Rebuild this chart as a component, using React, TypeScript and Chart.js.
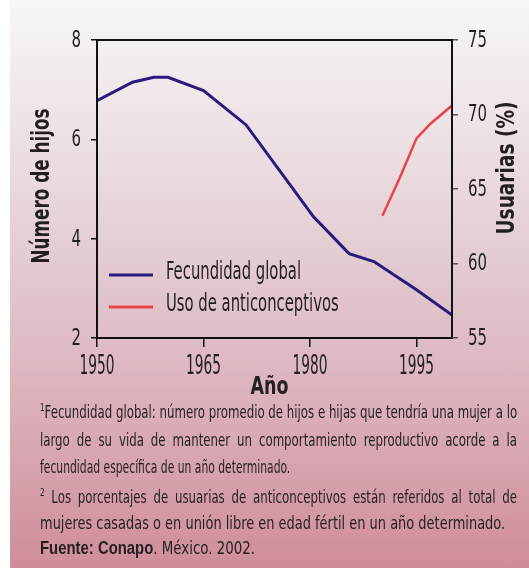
import { useEffect, useLayoutEffect, useRef } from 'react';
import { Chart, registerables } from 'chart.js';

Chart.register(...registerables);

document.body.style.margin = '0';

// Tasa global de fecundidad (hijos por mujer)
const fecundidadYears = [1950, 1955, 1958, 1960, 1965, 1971, 1980.5, 1985.5, 1989, 1995, 2000];
const fecundidadValues = [6.78, 7.15, 7.25, 7.25, 6.98, 6.29, 4.44, 3.7, 3.54, 2.97, 2.46];

// Usuarias de anticonceptivos (%)
const usuariasYears = [1990.2, 1992.6, 1995, 1997, 2000];
const usuariasValues = [63.2, 65.7, 68.4, 69.4, 70.6];

// Etiquetas de los ejes
const yearTicks = [1950, 1965, 1980, 1995];
const hijosTicks = [2, 4, 6, 8];
const usuariasTicks = [55, 60, 65, 70, 75];

const seriesLabels = ['Fecundidad global', 'Uso de anticonceptivos'];

const INK = '#231f20';
const NARROW = '"Liberation Sans Narrow", "DejaVu Sans Condensed", "Liberation Sans", sans-serif';
const WIDE = '"Liberation Sans", "DejaVu Sans", sans-serif';

const nota1a = 'Fecundidad global: número promedio de hijos e hijas que tendría una mujer a lo';
const nota1b = 'largo de su vida de mantener un comportamiento reproductivo acorde a la';
const nota1c = 'fecundidad específica de un año determinado.';
const nota2a = ' Los porcentajes de usuarias de anticonceptivos están referidos al total de';
const nota2b = 'mujeres casadas o en unión libre en edad fértil en un año determinado.';
const fuente = 'Fuente: Conapo';
const fuenteResto = '. México. 2002.';

// Draws text squeezed horizontally so that `sample` would span `width` pixels.
function squeezed(
  ctx: CanvasRenderingContext2D,
  text: string,
  x: number,
  y: number,
  font: string,
  sample: string,
  width: number,
  align: CanvasTextAlign,
  angle = 0,
) {
  ctx.save();
  ctx.font = font;
  const sx = width / ctx.measureText(sample).width;
  ctx.translate(x, y);
  ctx.rotate(angle);
  ctx.scale(sx, 1);
  ctx.textAlign = align;
  ctx.textBaseline = 'middle';
  ctx.fillStyle = INK;
  ctx.fillText(text, 0, 0);
  ctx.restore();
}

const decorations = {
  id: 'decorations',
  afterDraw(chart: any) {
    const { ctx, chartArea: a, scales } = chart;

    // marco del área de trazado
    ctx.save();
    ctx.strokeStyle = '#111';
    ctx.lineWidth = 2;
    ctx.strokeRect(a.left, a.top, a.right - a.left, a.bottom - a.top);
    ctx.restore();

    const tickFont = `23px ${NARROW}`;
    scales.y.ticks.forEach((t: any) => {
      squeezed(ctx, String(t.value), a.left - 16, scales.y.getPixelForValue(t.value) + 1, tickFont, '00', 19, 'right');
    });
    scales.y1.ticks.forEach((t: any) => {
      squeezed(ctx, String(t.value), a.right + 16, scales.y1.getPixelForValue(t.value) + 1, tickFont, '00', 19, 'left');
    });
    const xFont = `26px ${NARROW}`;
    scales.x.ticks.forEach((t: any) => {
      squeezed(ctx, String(t.value), scales.x.getPixelForValue(t.value), a.bottom + 29, xFont, '0000', 35, 'center');
    });

    const titleFont = `bold 24px ${NARROW}`;
    squeezed(ctx, 'Año', (a.left + a.right) / 2 - 5, a.bottom + 50, titleFont, 'Año', 38, 'center');
    squeezed(ctx, 'Número de hijos', 43, 186, titleFont, 'Número de hijos', 155, 'center', -Math.PI / 2);
    squeezed(ctx, 'Usuarias (%)', 508, 168, titleFont, 'Usuarias (%)', 133, 'center', -Math.PI / 2);

    // leyenda dentro del área de trazado
    const legendFont = `24px ${NARROW}`;
    chart.data.datasets.forEach((ds: any, i: number) => {
      const y = a.top + 235 + i * 32;
      ctx.save();
      ctx.strokeStyle = ds.borderColor;
      ctx.lineWidth = 3;
      ctx.beginPath();
      ctx.moveTo(a.left + 12, y);
      ctx.lineTo(a.left + 56, y);
      ctx.stroke();
      ctx.restore();
      squeezed(ctx, ds.label, a.left + 69, y - 2, legendFont, seriesLabels[0], 135, 'left');
    });
  },
};

export default function App() {
  const canvasRef = useRef<HTMLCanvasElement>(null);
  const notesRef = useRef<HTMLDivElement>(null);

  useEffect(() => {
    const chart = new Chart(canvasRef.current!, {
      type: 'line',
      data: {
        datasets: [
          {
            label: seriesLabels[0],
            data: fecundidadYears.map((x, i) => ({ x, y: fecundidadValues[i] })),
            borderColor: '#2b1a7c',
            borderWidth: 3,
            pointRadius: 0,
            tension: 0,
            yAxisID: 'y',
          },
          {
            label: seriesLabels[1],
            data: usuariasYears.map((x, i) => ({ x, y: usuariasValues[i] })),
            borderColor: '#e8434b',
            borderWidth: 2.5,
            pointRadius: 0,
            tension: 0,
            yAxisID: 'y1',
          },
        ],
      },
      options: {
        animation: false,
        responsive: false,
        layout: { padding: { top: 40, left: 0, right: 0, bottom: 0 } },
        plugins: { legend: { display: false }, tooltip: { enabled: false } },
        scales: {
          x: {
            type: 'linear',
            min: 1950,
            max: 2000,
            afterBuildTicks: (s: any) => {
              s.ticks = yearTicks.map((v) => ({ value: v }));
            },
            afterFit: (s: any) => {
              s.height = 62;
            },
            ticks: { display: false },
            border: { display: false },
            grid: { drawOnChartArea: false, drawTicks: true, tickLength: 9, color: '#111', lineWidth: 1.5 },
          },
          y: {
            type: 'linear',
            position: 'left',
            min: 2,
            max: 8,
            afterBuildTicks: (s: any) => {
              s.ticks = hijosTicks.map((v) => ({ value: v }));
            },
            afterFit: (s: any) => {
              s.width = 97;
            },
            ticks: { display: false },
            border: { display: false },
            grid: { drawOnChartArea: false, drawTicks: true, tickLength: 6, color: '#111', lineWidth: 1.5 },
          },
          y1: {
            type: 'linear',
            position: 'right',
            min: 55,
            max: 75,
            afterBuildTicks: (s: any) => {
              s.ticks = usuariasTicks.map((v) => ({ value: v }));
            },
            afterFit: (s: any) => {
              s.width = 77;
            },
            ticks: { display: false },
            border: { display: false },
            grid: { drawOnChartArea: false, drawTicks: true, tickLength: 6, color: '#555', lineWidth: 1.5 },
          },
        },
      },
      plugins: [decorations],
    } as any);
    return () => chart.destroy();
  }, []);

  // Cada línea de las notas se comprime horizontalmente hasta su ancho;
  // las líneas justificadas usan la compresión de la primera línea.
  useLayoutEffect(() => {
    const root = notesRef.current!;
    const fitted = Array.from(root.querySelectorAll<HTMLElement>('[data-w]'));
    let k = 1;
    fitted.forEach((el, i) => {
      el.style.transform = 'none';
      const s = Number(el.dataset.w) / el.offsetWidth;
      if (i === 0) k = s;
      el.style.transform = `scaleX(${s})`;
    });
    root.querySelectorAll<HTMLElement>('[data-j]').forEach((el) => {
      el.style.width = `${477 / k}px`;
      el.style.transform = `scaleX(${k})`;
    });
  }, []);

  const base: React.CSSProperties = {
    position: 'absolute',
    left: 40,
    height: 27,
    lineHeight: '27px',
    fontFamily: NARROW,
    fontSize: 18,
    color: INK,
    transformOrigin: '0 0',
    whiteSpace: 'nowrap',
  };
  const fit = (top: number): React.CSSProperties => ({ ...base, top, display: 'inline-block' });
  const just = (top: number): React.CSSProperties =>
    ({ ...base, top, width: 560, whiteSpace: 'normal', textAlign: 'justify', textAlignLast: 'justify' } as React.CSSProperties);

  const sup: React.CSSProperties = { fontSize: 11, position: 'relative', top: -7 };

  return (
    <div style={{ position: 'relative', width: 529, height: 571, overflow: 'hidden', background: '#fff' }}>
      <div
        style={{
          position: 'absolute',
          left: 10,
          top: 0,
          width: 519,
          height: 568,
          background:
            'linear-gradient(to bottom, #f8f6f8 0%, #ece0e4 25%, #e3ccd2 45%, #ddb8c0 65%, #d7a3ae 82%, #cf8d9a 100%)',
        }}
      />
      <canvas ref={canvasRef} width={529} height={400} style={{ position: 'absolute', left: 0, top: 0 }} />
      <div ref={notesRef}>
        <span data-w="477" style={fit(398)}>
          <span style={sup}>1</span>
          {nota1a}
        </span>
        <div data-j="1" style={just(426)}>{nota1b}</div>
        <span data-w="250" style={fit(453)}>{nota1c}</span>
        <div data-j="1" style={just(483)}>
          <span style={sup}>2</span>
          {nota2a}
        </div>
        <span data-w="465" style={fit(509)}>{nota2b}</span>
        <span data-w="215" style={fit(534)}>
          <span style={{ fontFamily: WIDE, fontWeight: 'bold', fontSize: 18 }}>{fuente}</span>
          {fuenteResto}
        </span>
      </div>
    </div>
  );
}
